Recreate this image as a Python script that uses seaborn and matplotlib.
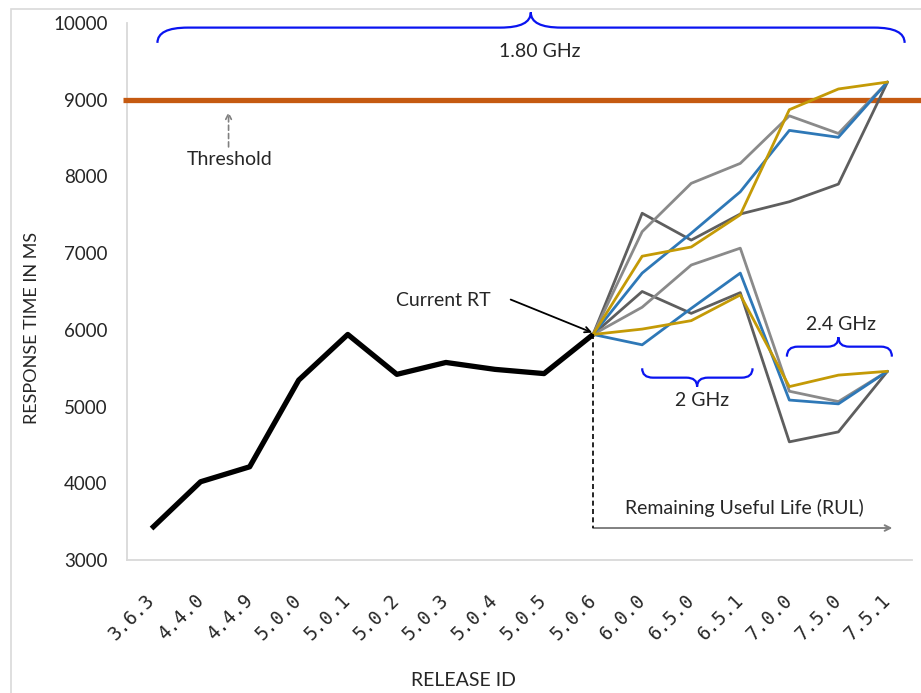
import numpy as np
import pandas as pd
import matplotlib
matplotlib.use("Agg")
import matplotlib.pyplot as plt
import seaborn as sns
from matplotlib.path import Path
from matplotlib.patches import PathPatch, Rectangle

# ---------------- data ----------------
releases = ["3.6.3", "4.4.0", "4.4.9", "5.0.0", "5.0.1", "5.0.2", "5.0.3", "5.0.4",
            "5.0.5", "5.0.6", "6.0.0", "6.5.0", "6.5.1", "7.0.0", "7.5.0", "7.5.1"]
history_releases = releases[:10]
history_rt = [3410, 4020, 4215, 5345, 5940, 5420, 5575, 5485, 5430, 5940]

proj_releases = releases[9:]
proj_high_dark = [5940, 7520, 7170, 7510, 7670, 7900, 9230]
proj_high_gray = [5940, 7280, 7910, 8170, 8790, 8560, 9230]
proj_high_blue = [5940, 6740, 7260, 7800, 8600, 8510, 9230]
proj_high_gold = [5940, 6960, 7080, 7500, 8870, 9140, 9230]
proj_low_dark = [5940, 6500, 6215, 6485, 4540, 4670, 5460]
proj_low_gray = [5940, 6295, 6845, 7065, 5200, 5065, 5460]
proj_low_blue = [5940, 5805, 6280, 6740, 5085, 5035, 5460]
proj_low_gold = [5940, 6010, 6120, 6455, 5260, 5410, 5460]
threshold = 9000

series_order = ["low_dark", "low_gray", "high_dark", "high_gray",
                "low_blue", "high_blue", "low_gold", "high_gold"]
series_values = {
    "high_dark": proj_high_dark, "high_gray": proj_high_gray,
    "high_blue": proj_high_blue, "high_gold": proj_high_gold,
    "low_dark": proj_low_dark, "low_gray": proj_low_gray,
    "low_blue": proj_low_blue, "low_gold": proj_low_gold,
}
palette = {
    "high_dark": "#5E5E5E", "low_dark": "#5E5E5E",
    "high_gray": "#8A8A8A", "low_gray": "#8A8A8A",
    "high_blue": "#2E78B7", "low_blue": "#2E78B7",
    "high_gold": "#C49A06", "low_gold": "#C49A06",
}

pos_of = {r: i for i, r in enumerate(releases)}
df_hist = pd.DataFrame({"pos": [pos_of[r] for r in history_releases], "rt": history_rt})
rows = []
for name in series_order:
    for r, v in zip(proj_releases, series_values[name]):
        rows.append({"series": name, "pos": pos_of[r], "rt": v})
df_proj = pd.DataFrame(rows)

# ---------------- style ----------------
sns.set_style("white")
plt.rcParams["font.family"] = ["Lato", "DejaVu Sans"]

W, H = 921, 693
fig = plt.figure(figsize=(W / 100, H / 100), dpi=100)
ax = fig.add_axes([127 / W, 1 - 560 / H, 785 / W, 537 / H])

# outer chart border
fig.patches.append(Rectangle((11 / W, -0.1), 1.2, (H - 9) / H + 0.1, transform=fig.transFigure,
                             fill=False, edgecolor="#D9D9D9", lw=1.2))

# threshold line (extends past plot area)
ax.plot([-0.59, 16.5], [threshold, threshold], color="#C55A11", lw=3.8,
        solid_capstyle="butt", clip_on=False, zorder=3)

# projections
sns.lineplot(data=df_proj, x="pos", y="rt", hue="series", hue_order=series_order,
             palette=palette, lw=2.0, legend=False, ax=ax, zorder=4,
             solid_joinstyle="round")
# history
sns.lineplot(data=df_hist, x="pos", y="rt", color="black", lw=3.8, ax=ax, zorder=5,
             solid_joinstyle="round", solid_capstyle="butt")

ax.set_xlim(-0.5, 15.5)
ax.set_ylim(3000, 10000)
ax.set_yticks(range(3000, 10001, 1000))
ax.set_yticklabels([str(v) for v in range(3000, 10001, 1000)], fontsize=13.5)
ax.set_xticks(range(len(releases)))
ax.set_xticklabels(releases, rotation=45, ha="right", va="center", rotation_mode="anchor",
                   family="DejaVu Sans Mono", fontsize=13.5)
ax.tick_params(axis="x", length=0, pad=27)
ax.tick_params(axis="y", length=0, pad=14)
sns.despine(ax=ax)
for s in ("left", "bottom"):
    ax.spines[s].set_color("#D9D9D9")
    ax.spines[s].set_linewidth(1.3)

ax.set_xlabel("RELEASE ID", fontsize=14)
ax.xaxis.label.set_va("center")
ax.xaxis.set_label_coords((463 - 127) / 785, (560 - 681) / 537)
ax.set_ylabel("RESPONSE TIME IN MS", fontsize=13)
ax.yaxis.label.set_va("center")
ax.yaxis.set_label_coords((32 - 127) / 785, (560 - 328) / 537)


# ---------------- annotations ----------------
def brace(x1, x2, y_end, y_flat, y_tip, dx, xm=None, color="#0A14F0"):
    if xm is None:
        xm = (x1 + x2) / 2
    verts = [(x1, y_end), (x1, y_flat), (x1 + dx, y_flat),
             (xm - dx, y_flat), (xm, y_flat), (xm, y_tip),
             (xm, y_flat), (xm + dx, y_flat),
             (x2 - dx, y_flat), (x2, y_flat), (x2, y_end)]
    codes = [Path.MOVETO, Path.CURVE3, Path.CURVE3,
             Path.LINETO, Path.CURVE3, Path.CURVE3,
             Path.CURVE3, Path.CURVE3,
             Path.LINETO, Path.CURVE3, Path.CURVE3]
    ax.add_patch(PathPatch(Path(verts, codes), fill=False, edgecolor=color, lw=1.6,
                           clip_on=False, zorder=6))


brace(0.12, 15.35, 9741, 9940, 10138, 0.62, xm=7.73)
ax.text(7.91, 9623, "1.80 GHz", ha="center", va="center", fontsize=14)

brace(10.0, 12.25, 5499, 5377, 5260, 0.22, xm=11.12)
ax.text(11.23, 5077, "2 GHz", ha="center", va="center", fontsize=14)

brace(12.95, 15.09, 5651, 5781, 5904, 0.22, xm=14.0)
ax.text(14.05, 6064, "2.4 GHz", ha="center", va="center", fontsize=14)

# threshold label
ax.annotate("", xy=(1.57, 8841), xytext=(1.57, 8385),
            arrowprops=dict(arrowstyle="->", color="#808080", lw=1.2, linestyle=(0, (3, 2)),
                            shrinkA=0, shrinkB=0))
ax.text(1.60, 8215, "Threshold", ha="center", va="center", fontsize=14)

# current RT
ax.annotate("", xy=(8.98, 5965), xytext=(7.32, 6395),
            arrowprops=dict(arrowstyle="->", color="black", lw=1.3, shrinkA=0, shrinkB=0))
ax.text(5.95, 6381, "Current RT", ha="center", va="center", fontsize=14)

# RUL
ax.plot([9, 9], [5940, 3417], color="black", lw=1.2, linestyle=(0, (3, 2)), zorder=6)
ax.annotate("", xy=(15.1, 3417), xytext=(9, 3417),
            arrowprops=dict(arrowstyle="->", color="#808080", lw=1.4, shrinkA=0, shrinkB=0))
ax.text(12.08, 3678, "Remaining Useful Life (RUL)", ha="center", va="center", fontsize=14)

fig.savefig("out.png", dpi=100)
